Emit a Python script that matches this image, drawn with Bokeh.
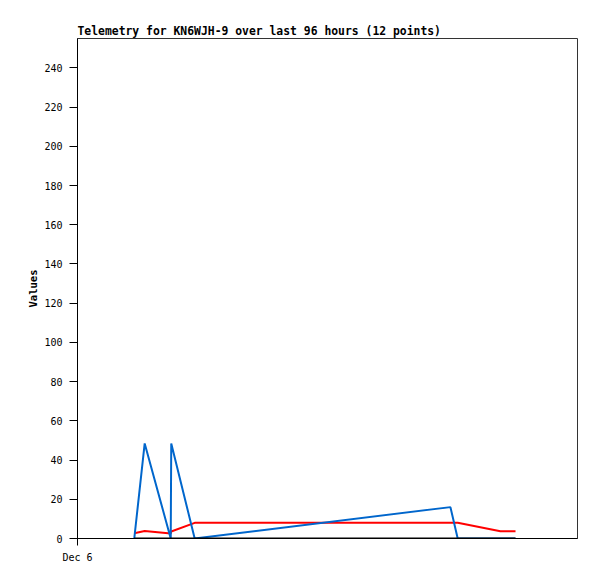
from bokeh.plotting import figure
from bokeh.models import Range1d, FixedTicker, ColumnDataSource
from bokeh.embed import file_html
from bokeh.resources import INLINE

# Data (hours since Dec 6 00:00, window of 96 hours)
hours = [10.9, 12.9, 17.9, 18.0, 22.5, 71.6, 73.0, 81.2, 84.1]
blue_vals = [0, 48.5, 0, 48.5, 0, 16, 0, 0, 0]
red_vals = [2.7, 3.8, 2.6, 3.6, 8, 8, 8, 3.7, 3.7]
black_vals = [0, 0, 0, 0, 0, 0, 0, 0, 0]

x_ticks = [0]
x_tick_labels = ["Dec 6"]
y_ticks = [0, 20, 40, 60, 80, 100, 120, 140, 160, 180, 200, 220, 240]

title_text = "Telemetry for KN6WJH-9 over last 96 hours (12 points)"
y_label = "Values"

src = ColumnDataSource(dict(t=hours, blue=blue_vals, red=red_vals, black=black_vals))

p = figure(frame_width=500, frame_height=500,
           min_border_left=77, min_border_right=12,
           min_border_top=38, min_border_bottom=33,
           x_range=Range1d(0, 96), y_range=Range1d(0, 255),
           output_backend="svg", toolbar_location=None,
           title=title_text)

p.title.text_font = "DejaVu Sans Mono"
p.title.text_font_size = "11.4px"
p.title.text_font_style = "bold"
p.title.text_color = "black"
p.title.align = "left"
p.title.offset = 0
p.title.standoff = 1

p.xgrid.visible = False
p.ygrid.visible = False
p.outline_line_color = "#333333"
p.outline_line_width = 1
p.background_fill_color = "white"
p.border_fill_color = "white"

p.line("t", "red", source=src, line_color="#ff0000", line_width=2)
p.line("t", "blue", source=src, line_color="#0066cc", line_width=2)
p.line("t", "black", source=src, line_color="#000000", line_width=2)

xa = p.xaxis[0]
xa.ticker = FixedTicker(ticks=x_ticks)
xa.major_label_overrides = {t: l for t, l in zip(x_ticks, x_tick_labels)}
xa.minor_tick_line_color = None
xa.major_tick_out = 7
xa.major_tick_in = 0
xa.major_label_standoff = 6
xa.axis_line_color = "black"
xa.major_tick_line_color = "black"
xa.major_label_text_font = "DejaVu Sans Mono"
xa.major_label_text_font_size = "10px"
xa.major_label_text_color = "black"

ya = p.yaxis[0]
ya.ticker = FixedTicker(ticks=y_ticks)
ya.minor_tick_line_color = None
ya.major_tick_out = 8
ya.major_tick_in = 0
ya.major_label_standoff = 7
ya.axis_line_color = "black"
ya.major_tick_line_color = "black"
ya.major_label_text_font = "DejaVu Sans Mono"
ya.major_label_text_font_size = "10px"
ya.major_label_text_color = "black"
ya.axis_label = y_label
ya.axis_label_text_font = "DejaVu Sans Mono"
ya.axis_label_text_font_size = "10.5px"
ya.axis_label_text_font_style = "bold"
ya.axis_label_text_color = "black"
ya.axis_label_standoff = 2

open("out.html", "w").write(file_html(p, INLINE))
